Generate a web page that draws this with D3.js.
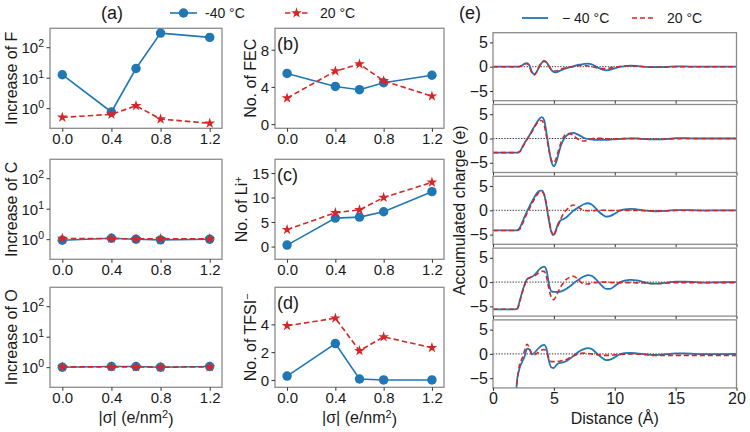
<!DOCTYPE html>
<html><head><meta charset="utf-8">
<script src="https://cdn.jsdelivr.net/npm/d3@7"></script>
<style>body{margin:0;background:#fff}</style>
</head><body><svg id="c" width="750" height="432"></svg>
<script>
// ---------- data ----------
const sigma = [0, 0.4, 0.6, 0.8, 1.2];
const sigmaTicks = [0, 0.4, 0.8, 1.2];
const sigmaTickLabels = ["0.0", "0.4", "0.8", "1.2"];
const seriesNames = ["-40 °C", "20 °C"];
const seriesNamesE = ["\u2212 40 °C", "20 °C"];

const incF_m40 = [12.5, 0.75, 20, 290, 210];
const incF_20  = [0.5, 0.63, 1.2, 0.44, 0.32];
const incC_m40 = [0.92, 1.07, 1.0, 0.95, 1.0];
const incC_20  = [1.05, 1.05, 1.02, 1.04, 1.03];
const incO_m40 = [1.0, 1.05, 1.05, 1.0, 1.05];
const incO_20  = [1.02, 1.02, 1.02, 1.0, 1.02];
const logTicks = [1, 10, 100];

const fec_m40 = [5.45, 4.05, 3.7, 4.45, 5.25];
const fec_20  = [2.8, 5.7, 6.45, 4.65, 3.0];
const fecTicks = [0, 4, 8];
const li_m40 = [0.3, 5.8, 6.0, 7.1, 11.2];
const li_20  = [3.45, 6.9, 7.5, 10.0, 13.1];
const liTicks = [0, 5, 10, 15];
const tfsi_m40 = [0.28, 2.62, 0.07, 0.0, 0.0];
const tfsi_20  = [3.9, 4.45, 2.1, 3.1, 2.32];
const tfsiTicks = [0, 2, 4];

const eDist = [0, 1.8, 2.0, 2.2, 2.4, 2.6, 2.8, 3.0, 3.2, 3.4,
  3.6, 3.8, 4.0, 4.2, 4.4, 4.6, 4.8, 5.0, 5.2, 5.4,
  5.6, 5.8, 6.0, 6.3, 6.6, 6.9, 7.2, 7.5, 7.8, 8.1,
  8.4, 8.7, 9.0, 9.3, 9.6, 10.0, 10.4, 10.8, 11.3, 11.8,
  12.4, 13.0, 13.6, 14.3, 15.0, 15.8, 16.6, 17.5, 18.5, 20.0];
const eDistTicks = [0, 5, 10, 15, 20];
const eChargeTicks = [-5, 0, 5];

const e1_m40 = [0, 0, 0, 0.05, 0.3, 0.65, 0.75, 0.2, -1.1, -1.55,
  -1.0, 0.0, 0.8, 1.1, 0.9, 0.1, -0.7, -1.1, -1.15, -0.95,
  -0.7, -0.5, -0.35, -0.1, 0.1, 0.3, 0.45, 0.6, 0.65, 0.5,
  0.15, -0.3, -0.6, -0.75, -0.65, -0.35, -0.05, 0.1, 0.2, 0.15,
  0.0, -0.1, -0.1, -0.05, 0.05, 0.05, 0.0, 0.0, 0.0, 0.0];
const e1_20 = [0, 0, 0, 0.05, 0.3, 0.55, 0.6, 0.0, -1.3, -1.7,
  -1.0, 0.1, 0.9, 1.2, 0.9, 0.1, -0.6, -0.9, -0.9, -0.7,
  -0.5, -0.35, -0.25, -0.1, 0.0, 0.15, 0.25, 0.25, 0.15, 0.0,
  -0.15, -0.3, -0.4, -0.4, -0.3, -0.1, 0.05, 0.15, 0.2, 0.1,
  0.0, -0.1, -0.1, -0.05, 0.0, 0.0, 0.0, 0.0, 0.0, 0.0];
const e2_m40 = [-2.9, -2.9, -2.9, -2.7, -1.8, -0.9, -0.1, 0.7, 1.6, 2.5,
  3.3, 4.0, 4.4, 3.8, 1.0, -2.2, -4.8, -5.7, -4.8, -3.0,
  -1.3, -0.2, 0.5, 1.0, 1.15, 0.9, 0.5, 0.1, -0.1, -0.2,
  -0.3, -0.3, -0.3, -0.3, -0.25, -0.15, -0.1, -0.05, 0.0, 0.0,
  -0.1, -0.2, -0.2, -0.1, 0.05, 0.05, 0.0, 0.0, 0.0, 0.0];
const e2_20 = [-2.9, -2.9, -2.9, -2.7, -1.9, -1.0, -0.2, 0.6, 1.4, 2.3,
  3.1, 3.6, 3.7, 2.8, 0.4, -2.4, -4.5, -5.0, -4.0, -2.3,
  -0.7, 0.3, 0.9, 1.0, 0.6, 0.0, -0.4, -0.5, -0.3, -0.05,
  0.05, 0.05, 0.0, -0.05, -0.05, -0.05, -0.05, 0.0, 0.0, 0.0,
  -0.1, -0.15, -0.15, -0.1, -0.05, 0.0, 0.0, 0.0, 0.0, 0.0];
const e3_m40 = [-4.15, -4.15, -4.1, -3.6, -2.5, -1.3, -0.2, 0.8, 1.8, 2.7,
  3.5, 4.0, 4.05, 3.3, 0.8, -2.2, -4.5, -5.05, -3.8, -2.5,
  -2.0, -1.8, -1.5, -0.8, -0.1, 0.4, 0.9, 1.3, 1.45, 1.2,
  0.5, -0.3, -0.9, -1.3, -1.2, -0.7, -0.1, 0.2, 0.3, 0.2,
  0.0, -0.15, -0.2, -0.1, 0.05, 0.05, 0.0, -0.05, 0.0, 0.0];
const e3_20 = [-4.15, -4.15, -4.15, -3.9, -2.9, -1.7, -0.6, 0.4, 1.4, 2.3,
  3.1, 3.7, 3.8, 3.2, 1.2, -1.8, -4.4, -5.2, -4.0, -2.8,
  -1.6, -0.6, 0.0, 0.7, 1.1, 0.8, 0.3, 0.0, -0.1, -0.1,
  -0.05, 0.0, 0.0, 0.0, -0.05, -0.05, -0.05, -0.05, -0.05, -0.05,
  -0.1, -0.1, -0.1, -0.1, -0.05, -0.05, -0.05, -0.05, -0.05, -0.05];
const e4_m40 = [-5.6, -5.6, -5.4, -3.8, -2.0, -0.5, 0.6, 0.9, 1.1, 1.5,
  2.0, 2.6, 3.0, 3.2, 2.4, -0.5, -1.9, -2.0, -2.0, -2.0,
  -1.9, -1.7, -1.4, -0.9, -0.3, 0.3, 0.8, 1.2, 1.45, 1.3,
  0.7, -0.1, -0.9, -1.4, -1.4, -0.8, -0.1, 0.3, 0.45, 0.35,
  0.0, -0.3, -0.3, -0.1, 0.1, 0.1, 0.0, -0.1, -0.05, 0.0];
const e4_20 = [-5.6, -5.6, -5.5, -4.0, -2.2, -0.6, 0.6, 0.9, 1.1, 1.3,
  1.6, 2.0, 2.2, 2.2, 1.0, -1.5, -3.2, -3.6, -2.8, -1.7,
  -0.8, -0.1, 0.5, 1.0, 1.2, 0.8, 0.0, -0.4, -0.4, -0.2,
  -0.1, -0.05, 0.0, 0.0, -0.05, -0.1, -0.1, -0.1, -0.1, -0.15,
  -0.2, -0.3, -0.3, -0.2, -0.1, -0.1, -0.1, -0.1, -0.1, -0.1];
const e5_m40 = [-10, -10, -5.0, -2.8, -1.6, -0.5, 1.1, 0.9, -0.1, 0.2,
  0.8, 1.3, 1.7, 1.85, 1.0, -1.5, -2.8, -2.9, -2.3, -1.9,
  -1.8, -1.7, -1.5, -1.0, -0.4, 0.2, 0.7, 1.05, 1.2, 1.0,
  0.4, -0.3, -0.9, -1.3, -1.2, -0.7, -0.1, 0.15, 0.2, 0.1,
  -0.05, -0.2, -0.2, -0.05, 0.1, 0.1, 0.0, -0.05, -0.05, 0.0];
const e5_20 = [-10, -10, -5.2, -2.0, -0.9, 0.7, 2.0, 1.2, -0.1, -0.2,
  0.1, 0.5, 0.8, 0.9, 0.3, -1.0, -1.6, -1.6, -1.5, -1.5,
  -1.4, -1.3, -1.2, -0.8, -0.4, -0.1, 0.1, 0.15, 0.1, 0.0,
  -0.1, -0.2, -0.3, -0.3, -0.3, -0.2, -0.1, -0.05, 0.0, 0.0,
  -0.1, -0.3, -0.3, -0.3, -0.3, -0.3, -0.3, -0.3, -0.3, -0.3];

// ---------- style ----------
const FONT = '"Liberation Sans", Arial, Helvetica, sans-serif';
const BLUE = "#1f77b4", RED = "#d62728", FRAME = "#8c8c8c", INK = "#1a1a1a";
const TICKFS = 15;
const svg = d3.select("#c");

function txt(x, y, s, fs, anchor) {
  return svg.append("text").attr("x", x).attr("y", y).attr("font-family", FONT)
    .attr("font-size", fs).attr("fill", INK).attr("text-anchor", anchor || "start").text(s);
}
function styleAxis(g, fs) {
  g.select(".domain").remove();
  g.selectAll(".tick line").attr("stroke", "#333").attr("stroke-width", 1);
  g.selectAll(".tick text").attr("font-family", FONT).attr("font-size", fs).attr("fill", INK);
}
function frame(x0, y0, w, h) {
  svg.append("rect").attr("x", x0).attr("y", y0).attr("width", w).attr("height", h)
    .attr("fill", "none").attr("stroke", FRAME).attr("stroke-width", 1.3);
}
const star = d3.symbol(d3.symbolStar).size(36);
const dot = d3.symbol(d3.symbolCircle).size(70);

function drawSeries(g, x, y, xs, ys, color, dashed, sym) {
  g.append("path").datum(xs.map((v, i) => [v, ys[i]]))
    .attr("d", d3.line().x(d => x(d[0])).y(d => y(d[1])))
    .attr("fill", "none").attr("stroke", color).attr("stroke-width", 1.6)
    .attr("stroke-dasharray", dashed ? "5.5,3" : null);
  g.selectAll(null).data(xs.map((v, i) => [v, ys[i]])).enter().append("path")
    .attr("d", sym).attr("transform", d => `translate(${x(d[0])},${y(d[1])})`)
    .attr("fill", color);
}

const H = 100, rowTops = [28.3, 159.3, 287.3];
const colL = [50, 222], colM = [275, 444];

function sigmaPanel(col, top, yScaleFn, yTicks, yFmt, blueVals, redVals, tag) {
  const x = d3.scaleLinear().domain([-0.1, 1.3]).range(col);
  const y = yScaleFn().range([top + H, top]);
  frame(col[0], top, col[1] - col[0], H);
  const gx = svg.append("g").attr("transform", `translate(0,${top + H})`)
    .call(d3.axisBottom(x).tickValues(sigmaTicks).tickFormat((d, i) => sigmaTickLabels[i]).tickSize(3.5).tickPadding(2));
  styleAxis(gx, TICKFS);
  const gy = svg.append("g").attr("transform", `translate(${col[0]},0)`)
    .call(d3.axisLeft(y).tickValues(yTicks).tickFormat("").tickSize(3.5).tickPadding(2.5));
  styleAxis(gy, TICKFS);
  gy.selectAll(".tick").each(function (d) { yFmt(d3.select(this).select("text"), d); });
  const g = svg.append("g");
  drawSeries(g, x, y, sigma, blueVals, BLUE, false, dot);
  drawSeries(g, x, y, sigma, redVals, RED, true, star);
  if (tag) txt(col[0] + 2, top + 22, tag, 18);
  return y;
}
function logFmt(t, d) {
  const e = Math.round(Math.log10(d));
  t.text(null).attr("dy", "0.36em");
  t.append("tspan").text("10");
  t.append("tspan").attr("dy", "-0.55em").attr("font-size", 10.5).text(String(e));
}
function linFmt(t, d) { t.text(String(d)).attr("dy", "0.36em"); }
function ylab(x, yc, parts) {
  const t = svg.append("text").attr("transform", `translate(${x},${yc}) rotate(-90)`)
    .attr("text-anchor", "middle").attr("font-family", FONT).attr("font-size", 16).attr("fill", INK);
  parts.forEach(p => {
    const s = t.append("tspan").text(p.t);
    if (p.sup) s.attr("dy", "-0.45em").attr("font-size", 11);
  });
}

const logY = () => d3.scaleLog().domain([Math.pow(10, -0.66), Math.pow(10, 2.62)]);
sigmaPanel(colL, rowTops[0], logY, logTicks, logFmt, incF_m40, incF_20);
sigmaPanel(colL, rowTops[1], logY, logTicks, logFmt, incC_m40, incC_20);
sigmaPanel(colL, rowTops[2], logY, logTicks, logFmt, incO_m40, incO_20);
ylab(17, rowTops[0] + H / 2, [{t: "Increase of F"}]);
ylab(17, rowTops[1] + H / 2, [{t: "Increase of C"}]);
ylab(17, rowTops[2] + H / 2, [{t: "Increase of O"}]);

sigmaPanel(colM, rowTops[0], () => d3.scaleLinear().domain([-0.45, 10.3]), fecTicks, linFmt, fec_m40, fec_20, "(b)");
sigmaPanel(colM, rowTops[1], () => d3.scaleLinear().domain([-2.6, 17.8]), liTicks, linFmt, li_m40, li_20, "(c)");
sigmaPanel(colM, rowTops[2], () => d3.scaleLinear().domain([-0.53, 6.67]), tfsiTicks, linFmt, tfsi_m40, tfsi_20, "(d)");
ylab(256, rowTops[0] + H / 2, [{t: "No. of FEC"}]);
ylab(247, rowTops[1] + H / 2, [{t: "No. of Li"}, {t: "+", sup: true}]);
ylab(256, rowTops[2] + H / 2, [{t: "No. of TFSI"}, {t: "\u2212", sup: true}]);

// x labels
function sigmaLabel(cx) {
  const t = svg.append("text").attr("x", cx).attr("y", 423).attr("text-anchor", "middle")
    .attr("font-family", FONT).attr("font-size", 16).attr("fill", INK);
  t.append("tspan").text("|\u03c3| (e/nm");
  t.append("tspan").attr("dy", "-0.45em").attr("font-size", 11).text("2");
  t.append("tspan").attr("dy", "0.45em").text(")");
}
sigmaLabel((colL[0] + colL[1]) / 2);
sigmaLabel((colM[0] + colM[1]) / 2);

// titles and legend (a)-(d)
txt(112, 19, "(a)", 18, "middle");
const lg = svg.append("g");
const lx = d3.scaleLinear().domain([0, 1]).range([170, 197]);
lg.append("line").attr("x1", lx(0)).attr("x2", lx(1)).attr("y1", 13).attr("y2", 13).attr("stroke", BLUE).attr("stroke-width", 1.6);
lg.append("path").attr("d", dot).attr("transform", `translate(${lx(0.5)},13)`).attr("fill", BLUE);
txt(205, 18, seriesNames[0], 14);
lg.append("line").attr("x1", 285).attr("x2", 308).attr("y1", 13).attr("y2", 13).attr("stroke", RED).attr("stroke-width", 1.6).attr("stroke-dasharray", "5.5,3");
lg.append("path").attr("d", star).attr("transform", `translate(296.5,13)`).attr("fill", RED);
txt(320, 18, seriesNames[1], 14);

// ---------- panel (e) ----------
const eX = d3.scaleLinear().domain([0, 20]).range([493, 736.5]);
const eTop0 = 32.7, eStep = 71.8, eH = 68;
const eData = [[e1_m40, e1_20], [e2_m40, e2_20], [e3_m40, e3_20], [e4_m40, e4_20], [e5_m40, e5_20]];
const eLine = (y) => d3.line().x((d, i) => eX(eDist[i])).y(d => y(d)).curve(d3.curveMonotoneX);
const defs = svg.append("defs");
eData.forEach((pair, k) => {
  const top = eTop0 + k * eStep;
  const y = d3.scaleLinear().domain([-7, 7]).range([top + eH, top]);
  defs.append("clipPath").attr("id", "ec" + k).append("rect")
    .attr("x", eX(0)).attr("y", top).attr("width", eX(20) - eX(0)).attr("height", eH);
  const g = svg.append("g").attr("clip-path", `url(#ec${k})`);
  g.append("line").attr("x1", eX(0)).attr("x2", eX(20)).attr("y1", y(0)).attr("y2", y(0))
    .attr("stroke", "#222").attr("stroke-width", 0.9).attr("stroke-dasharray", "1.4,1.4");
  g.append("path").attr("d", eLine(y)(pair[0])).attr("fill", "none").attr("stroke", BLUE).attr("stroke-width", 1.8);
  g.append("path").attr("d", eLine(y)(pair[1])).attr("fill", "none").attr("stroke", RED).attr("stroke-width", 1.6).attr("stroke-dasharray", "5,3");
  frame(eX(0), top, eX(20) - eX(0), eH);
  const gy = svg.append("g").attr("transform", `translate(${eX(0)},0)`)
    .call(d3.axisLeft(y).tickValues(eChargeTicks).tickFormat(d => d < 0 ? "\u2212" + Math.abs(d) : String(d)).tickSize(3).tickPadding(2));
  styleAxis(gy, 16);
  const gx = svg.append("g").attr("transform", `translate(0,${top + eH})`)
    .call(d3.axisBottom(eX).tickValues(eDistTicks).tickSize(3).tickPadding(2).tickFormat(k === 4 ? d3.format("d") : ""));
  styleAxis(gx, 16);
});
ylab(465, eTop0 + (4 * eStep + eH) / 2, [{t: "Accumulated charge (e)"}]);
txt((493 + 736.5) / 2, 424, "Distance (\u00c5)", 16, "middle");
txt(470, 19, "(e)", 18, "middle");
svg.append("line").attr("x1", 522).attr("x2", 548).attr("y1", 18).attr("y2", 18).attr("stroke", BLUE).attr("stroke-width", 1.8);
txt(562, 23, seriesNamesE[0], 14);
svg.append("line").attr("x1", 632).attr("x2", 656).attr("y1", 18).attr("y2", 18).attr("stroke", RED).attr("stroke-width", 1.6).attr("stroke-dasharray", "5,3");
txt(667, 23, seriesNamesE[1], 14);
</script></body></html>
